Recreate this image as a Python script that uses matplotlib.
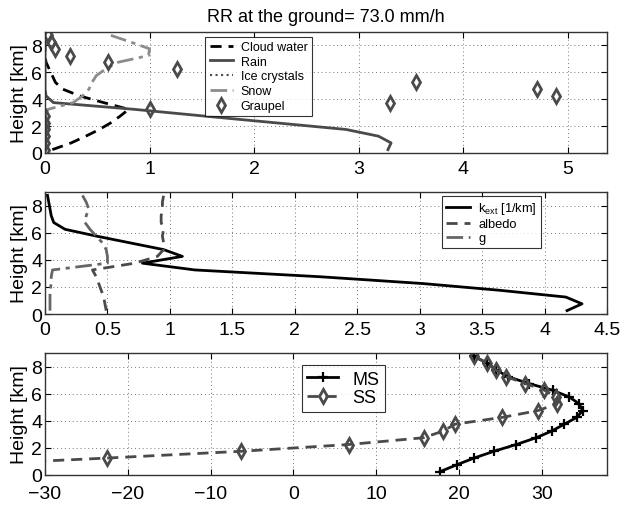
import matplotlib
matplotlib.use("Agg")
import matplotlib.pyplot as plt

plt.rcParams['font.family'] = ['Liberation Sans', 'DejaVu Sans']
plt.rcParams['mathtext.fontset'] = 'custom'
plt.rcParams['mathtext.rm'] = 'Liberation Sans'
plt.rcParams['mathtext.it'] = 'Liberation Sans'

# ---------------- data ----------------
heights = [0.25, 0.75, 1.25, 1.75, 2.25, 2.75, 3.25, 3.75, 4.25,
           4.75, 5.25, 5.75, 6.25, 6.75, 7.25, 7.75, 8.25, 8.75]

# panel 1: hydrometeor contents
cloud_water = [0.07, 0.25, 0.39, 0.52, 0.63, 0.72, 0.80, 0.56, 0.33,
               0.17, 0.10, 0.07, 0.04, 0.01, 0.0, 0.0, 0.0, 0.0]
rain = [3.28, 3.31, 3.19, 2.88, 2.20, 1.52, 0.85, 0.08, 0.01,
        0.0, 0.0, 0.0, 0.0, 0.0, 0.0, 0.0, 0.0, 0.0]
ice_crystals = [0.0, 0.0, 0.0, 0.0, 0.0, 0.0, 0.0, 0.0, 0.0,
                0.0, 0.0, 0.0, 0.0, 0.0, 0.0, 0.0, 0.0, 0.0]
snow = [0.0, 0.0, 0.0, 0.0, 0.0, 0.0, 0.03, 0.27, 0.36,
        0.42, 0.45, 0.49, 0.58, 0.70, 0.99, 1.0, 0.82, 0.63]
graupel = [0.0, 0.0, 0.0, 0.0, 0.0, 0.0, 1.0, 3.30, 4.89,
           4.71, 3.55, 5.70, 1.26, 0.60, 0.24, 0.10, 0.06, 0.03]

# panel 2: optical properties
k_ext = [4.18, 4.30, 4.17, 3.64, 3.02, 2.20, 1.20, 0.78, 1.10,
         0.95, 0.68, 0.41, 0.16, 0.07, 0.05, 0.04, 0.03, 0.02]
albedo = [0.49, 0.48, 0.47, 0.45, 0.43, 0.41, 0.38, 0.72, 0.90,
          0.95, 0.95, 0.94, 0.95, 0.93, 0.93, 0.94, 0.94, 0.95]
g_asym = [0.04, 0.04, 0.04, 0.04, 0.05, 0.05, 0.06, 0.50, 0.50,
          0.49, 0.46, 0.41, 0.36, 0.32, 0.33, 0.35, 0.33, 0.30]

# panel 3: reflectivities
ms = [17.7, 19.7, 21.8, 24.2, 26.9, 29.3, 31.2, 32.7, 34.2,
      34.9, 34.5, 33.3, 31.3, 28.4, 25.9, 24.5, 23.4, 21.8]
ss = [-55.0, -40.0, -22.5, -6.3, 6.7, 15.7, 18.1, 19.5, 25.2,
      29.5, 31.8, 31.7, 30.3, 28.0, 25.7, 24.4, 23.4, 21.8]

title = "RR at the ground= 73.0 mm/h"
ylabel = "Height [km]"
yticks = [0, 2, 4, 6, 8]
xticks1 = [0, 1, 2, 3, 4, 5]
xticks2 = [0, 0.5, 1, 1.5, 2, 2.5, 3, 3.5, 4, 4.5]
xticks2_labels = ["0", "0.5", "1", "1.5", "2", "2.5", "3", "3.5", "4", "4.5"]
xticks3 = [-30, -20, -10, 0, 10, 20, 30]

# ---------------- figure ----------------
fig = plt.figure(figsize=(6.27, 5.06), dpi=100)
L, W = 45 / 627, 562 / 627
ax1 = fig.add_axes([L, (506 - 154) / 506, W, 121 / 506])
ax2 = fig.add_axes([L, (506 - 315) / 506, W, 122 / 506])
ax3 = fig.add_axes([L, (506 - 476) / 506, W, 122 / 506])

DARK = '#4a4a4a'
LIGHT = '#8c8c8c'

def style(ax, xpad=5):
    ax.set_ylim(0, 9)
    ax.set_yticks(yticks)
    ax.grid(True, linestyle=(0, (1, 3)), color='#777777', linewidth=0.7)
    ax.tick_params(direction='in', top=True, right=True, length=4,
                   width=0.8, labelsize=14, colors='black')
    ax.tick_params(axis='x', pad=xpad)
    ax.tick_params(axis='y', pad=2)
    for s in ax.spines.values():
        s.set_linewidth(1.0)
        s.set_color('#333333')
    ax.set_ylabel(ylabel, fontsize=14, labelpad=0)

def frame(leg):
    leg.get_frame().set_edgecolor('black')
    leg.get_frame().set_linewidth(0.8)

# panel 1
ax1.plot(cloud_water, heights, color='black', linestyle=(0, (4, 2.5)), lw=2.0, label='Cloud water')
ax1.plot(rain, heights, color=DARK, linestyle='-', lw=2.0, label='Rain')
ax1.plot(ice_crystals, heights, color=DARK, linestyle=':', lw=1.5, label='Ice crystals')
ax1.plot(snow, heights, color=LIGHT, linestyle=(0, (6, 2, 1.5, 2)), lw=2.0, label='Snow')
ax1.plot(graupel, heights, linestyle='none', marker='d', ms=7.5, mew=2.0,
         mfc='none', mec=DARK, label='Graupel')
ax1.set_xlim(0, 5.375)
ax1.set_xticks(xticks1)
style(ax1)
ax1.set_title(title, fontsize=13, pad=8)
leg1 = ax1.legend(loc='upper left', bbox_to_anchor=(0.285, 0.962), fontsize=9,
                  handlelength=1.9, handletextpad=0.6, labelspacing=0.22,
                  borderpad=0.35, borderaxespad=0, frameon=True, fancybox=False)
frame(leg1)

# panel 2
ax2.plot(k_ext, heights, color='black', linestyle='-', lw=2.0, label='k$_{\\mathrm{ext}}$ [1/km]')
ax2.plot(albedo, heights, color=DARK, linestyle=(0, (4, 2.5)), lw=2.0, label='albedo')
ax2.plot(g_asym, heights, color='#666666', linestyle=(0, (6, 2, 1.5, 2)), lw=2.0, label='g')
ax2.set_xlim(0, 4.5)
ax2.set_xticks(xticks2)
ax2.set_xticklabels(xticks2_labels)
style(ax2)
leg2 = ax2.legend(loc='upper left', bbox_to_anchor=(0.706, 0.967), fontsize=9.3,
                  handlelength=1.9, handletextpad=0.6, labelspacing=0.15,
                  borderpad=0.32, borderaxespad=0, frameon=True, fancybox=False)
frame(leg2)

# panel 3
ax3.plot(ms, heights, color='black', linestyle='-', lw=2.0, marker='+', ms=7, mew=1.6, label='MS')
ax3.plot(ss, heights, color=DARK, linestyle=(0, (4, 2.5)), lw=2.0, marker='d', ms=7.5,
         mew=2.0, mfc='none', mec=DARK, label='SS')
ax3.set_xlim(-30, 37.85)
ax3.set_xticks(xticks3)
style(ax3, xpad=7)
leg3 = ax3.legend(loc='upper left', bbox_to_anchor=(0.457, 0.90), fontsize=13,
                  handlelength=1.7, handletextpad=0.8, labelspacing=0.1,
                  borderpad=0.3, borderaxespad=0, frameon=True, fancybox=False)
frame(leg3)

for ax in (ax1, ax2, ax3):
    ax.yaxis.set_label_coords(-0.03, 0.5)

fig.savefig("out.png", dpi=100)
